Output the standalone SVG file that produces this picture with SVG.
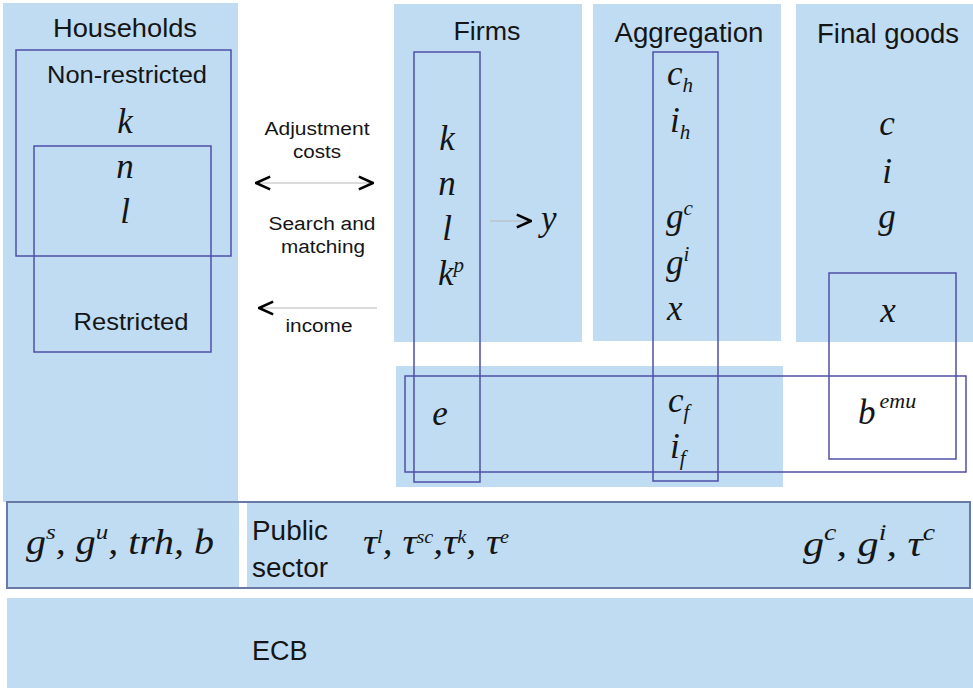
<svg xmlns="http://www.w3.org/2000/svg" width="973" height="688" viewBox="0 0 973 688">
<style>
.panel{fill:#bfdcf3}
.box{fill:none;stroke:#4f4fa6;stroke-width:1.5}
.sans{font-family:"Liberation Sans",Arial,sans-serif;fill:#151515}
.m{font-family:"Liberation Serif","Times New Roman",serif;font-style:italic;fill:#151515;font-size:35px}
.conn{stroke:#b8b8b8;stroke-width:1.2;fill:none}
</style>
<defs>
<marker id="chev" viewBox="0 0 12 12" refX="11" refY="6" markerWidth="17" markerHeight="17" markerUnits="userSpaceOnUse" orient="auto-start-reverse">
<path d="M1,1.5 L11,6 L1,10.5" fill="none" stroke="#000" stroke-width="1.8"/>
</marker>
</defs>
<rect width="973" height="688" fill="#fff"/>

<g id="households">
<rect class="panel" x="3" y="3" width="235" height="499"/>
<text class="sans" x="125" y="37" font-size="26" text-anchor="middle" textLength="144" lengthAdjust="spacingAndGlyphs">Households</text>
</g>
<g id="nonrestricted">
<rect class="box" x="16" y="50" width="215" height="206"/>
<text class="sans" x="127" y="83" font-size="23" text-anchor="middle" textLength="160" lengthAdjust="spacingAndGlyphs">Non-restricted</text>
<text class="m" x="125" y="133" text-anchor="middle">k</text>
</g>
<g id="restricted">
<rect class="box" x="34" y="146" width="177" height="206"/>
<text class="m" x="125" y="178" text-anchor="middle">n</text>
<text class="m" x="125" y="223" text-anchor="middle">l</text>
<text class="sans" x="131" y="330" font-size="24" text-anchor="middle" textLength="115" lengthAdjust="spacingAndGlyphs">Restricted</text>
</g>

<g id="firms">
<rect class="panel" x="394" y="4" width="188" height="338"/>
<text class="sans" x="487" y="40" font-size="26" text-anchor="middle" textLength="67" lengthAdjust="spacingAndGlyphs">Firms</text>
</g>
<g id="aggregation">
<rect class="panel" x="593" y="4" width="188" height="337"/>
<text class="sans" x="689" y="42" font-size="27" text-anchor="middle" textLength="149" lengthAdjust="spacingAndGlyphs">Aggregation</text>
</g>
<g id="final-goods">
<rect class="panel" x="796" y="4" width="177" height="338"/>
<text class="sans" x="888" y="43" font-size="27" text-anchor="middle" textLength="142" lengthAdjust="spacingAndGlyphs">Final goods</text>
<text class="m" x="887" y="135" text-anchor="middle">c</text>
<text class="m" x="887" y="183" text-anchor="middle">i</text>
<text class="m" x="887" y="228" text-anchor="middle">g</text>
</g>
<g id="lower-band">
<rect class="panel" x="396" y="366" width="387" height="121"/>
</g>

<g id="firms-vars">
<rect class="box" x="414" y="52" width="66" height="430"/>
<text class="m" x="447" y="150" text-anchor="middle">k</text>
<text class="m" x="447" y="195" text-anchor="middle">n</text>
<text class="m" x="447" y="240" text-anchor="middle">l</text>
<text class="m" x="438" y="285">k<tspan font-size="21" dy="-13">p</tspan></text>
<text class="m" x="440" y="425" text-anchor="middle">e</text>
</g>
<g id="output-y">
<text class="m" x="541" y="230" font-size="38">y</text>
</g>
<g id="aggregation-vars">
<rect class="box" x="653" y="52" width="65" height="429"/>
<text class="m" x="667" y="85">c<tspan font-size="21" dy="7">h</tspan></text>
<text class="m" x="670" y="132">i<tspan font-size="21" dy="7">h</tspan></text>
<text class="m" x="666" y="228">g<tspan font-size="21" dy="-13">c</tspan></text>
<text class="m" x="666" y="274">g<tspan font-size="21" dy="-13">i</tspan></text>
<text class="m" x="667" y="320">x</text>
<text class="m" x="668" y="412">c<tspan font-size="21" dy="7">f</tspan></text>
<text class="m" x="670" y="458">i<tspan font-size="21" dy="7">f</tspan></text>
</g>
<g id="exports">
<rect class="box" x="829" y="273" width="127" height="186"/>
<text class="m" x="888" y="322" text-anchor="middle">x</text>
<text class="m" x="858" y="424" font-size="40">b<tspan font-size="22" dy="-16" dx="4">emu</tspan></text>
</g>
<g id="foreign">
<rect class="box" x="405" y="376" width="561" height="96"/>
</g>

<g id="public-sector">
<rect class="panel" x="7" y="502" width="232" height="86"/>
<rect class="panel" x="247" y="502" width="723" height="86"/>
<rect x="7" y="502" width="963" height="86" fill="none" stroke="#6a7aa6" stroke-width="2"/>
<text class="m" x="26" y="554" font-size="38" textLength="188" lengthAdjust="spacingAndGlyphs">g<tspan font-size="22" dy="-15">s</tspan><tspan dy="15">, g</tspan><tspan font-size="22" dy="-15">u</tspan><tspan dy="15">, trh, b</tspan></text>
<text class="sans" x="252" y="540" font-size="27" textLength="76" lengthAdjust="spacingAndGlyphs">Public</text>
<text class="sans" x="252" y="577" font-size="27" textLength="76" lengthAdjust="spacingAndGlyphs">sector</text>
<text class="m" x="363" y="554" font-size="30" textLength="146" lengthAdjust="spacingAndGlyphs">τ<tspan font-size="18" dy="-11">l</tspan><tspan dy="11">, τ</tspan><tspan font-size="18" dy="-11">sc</tspan><tspan dy="11">,τ</tspan><tspan font-size="18" dy="-11">k</tspan><tspan dy="11">, τ</tspan><tspan font-size="18" dy="-11">e</tspan></text>
<text class="m" x="803" y="556" font-size="40" textLength="132" lengthAdjust="spacingAndGlyphs">g<tspan font-size="23" dy="-16">c</tspan><tspan dy="16">, g</tspan><tspan font-size="23" dy="-16">i</tspan><tspan dy="16">, τ</tspan><tspan font-size="23" dy="-16">c</tspan></text>
</g>
<g id="ecb">
<rect class="panel" x="7" y="598" width="966" height="90"/>
<text class="sans" x="252" y="660" font-size="27">ECB</text>
</g>

<g id="connectors">
<line class="conn" x1="256" y1="183" x2="373" y2="183" marker-start="url(#chev)" marker-end="url(#chev)"/>
<line class="conn" x1="377" y1="308" x2="259" y2="308" marker-end="url(#chev)"/>
<line class="conn" x1="490" y1="221" x2="531" y2="221" marker-end="url(#chev)"/>
<text class="sans" x="317" y="135" font-size="18" text-anchor="middle" textLength="105" lengthAdjust="spacingAndGlyphs">Adjustment</text>
<text class="sans" x="317" y="158" font-size="18" text-anchor="middle" textLength="48" lengthAdjust="spacingAndGlyphs">costs</text>
<text class="sans" x="322" y="230" font-size="18" text-anchor="middle" textLength="107" lengthAdjust="spacingAndGlyphs">Search and</text>
<text class="sans" x="323" y="253" font-size="18" text-anchor="middle" textLength="84" lengthAdjust="spacingAndGlyphs">matching</text>
<text class="sans" x="319" y="332" font-size="18" text-anchor="middle" textLength="67" lengthAdjust="spacingAndGlyphs">income</text>
</g>
</svg>
